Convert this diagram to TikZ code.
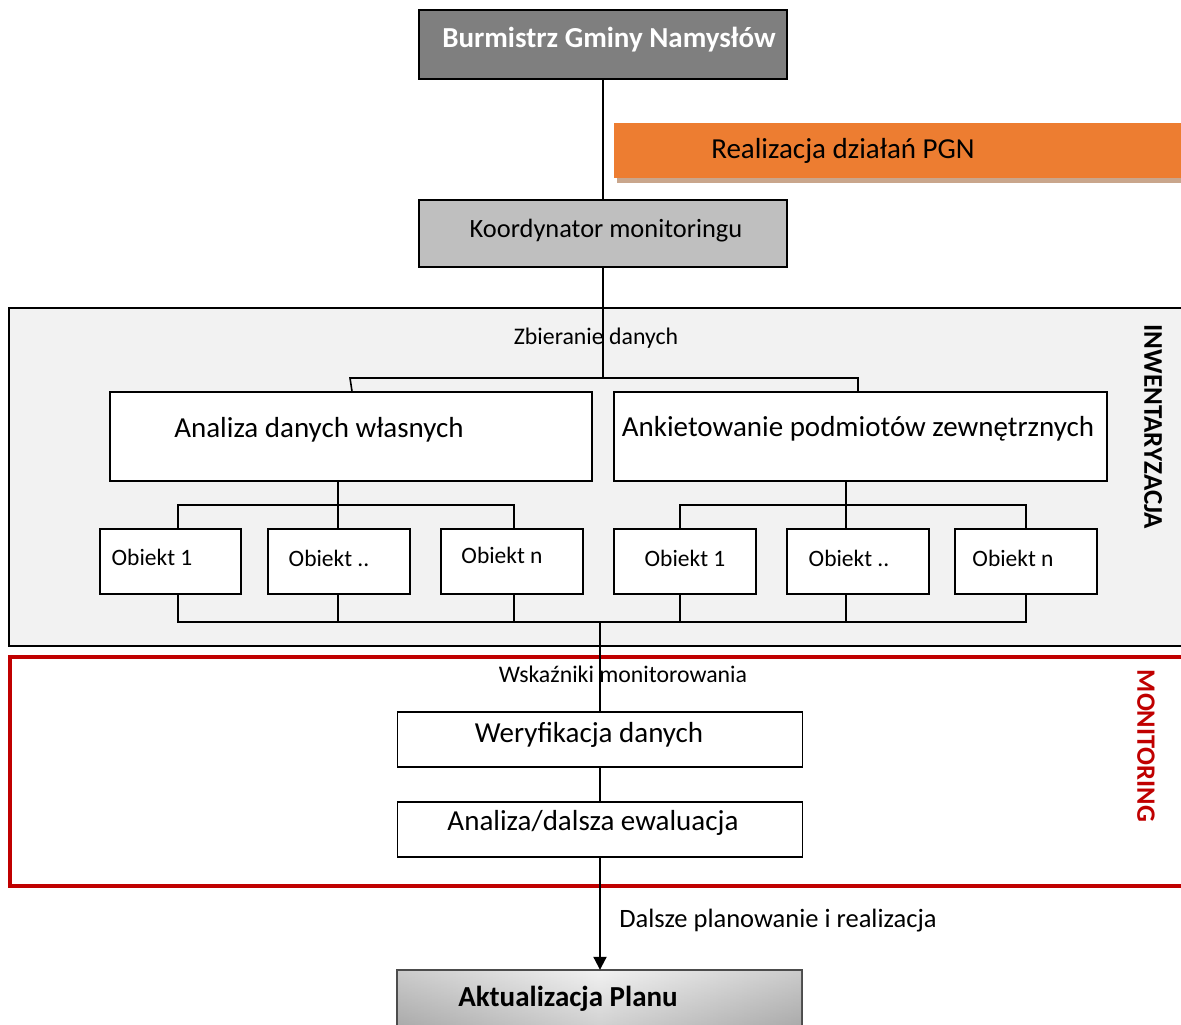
\documentclass[tikz,border=0pt]{standalone}
\usepackage{fontspec}
\setmainfont{Carlito}
\usetikzlibrary{arrows.meta}
\definecolor{burgray}{HTML}{7F7F7F}
\definecolor{koogray}{HTML}{BFBFBF}
\definecolor{orangeb}{HTML}{ED7D31}
\definecolor{orshadow}{HTML}{C9A68C}
\definecolor{panelgray}{HTML}{F2F2F2}
\definecolor{monred}{HTML}{C00000}
\begin{document}
\begin{tikzpicture}[x=1pt,y=-1pt,
  box/.style={draw=black, line width=1.5pt, fill=white, inner sep=0pt},
  lbl/.style={inner sep=0pt, yshift=-2pt},
  txt/.style={lbl, font=\fontsize{29}{34}\selectfont},
  small/.style={lbl, font=\fontsize{23.5}{28}\selectfont},
  conn/.style={line width=1.6pt, black},
]
\useasboundingbox (0,0) rectangle (1181,1025);
\clip (0,0) rectangle (1181,1025);

% panels
\node[draw=black, line width=1.5pt, fill=panelgray, minimum width=1200pt, minimum height=338pt, inner sep=0pt, anchor=north west] (inwpanel) at (8,307) {};
\node[draw=monred, line width=3.5pt, fill=white, minimum width=1200pt, minimum height=229pt, inner sep=0pt, anchor=north west] (monpanel) at (8,655) {};

% orange banner with shadow
\fill[orshadow] (617,128) rectangle (1200,183);
\node[fill=orangeb, minimum width=600pt, minimum height=55pt, inner sep=0pt, anchor=north west] (banner) at (614,123) {};
\node[txt] (bannert) at (843,149) {Realizacja działań PGN};

% side labels
\node[inner sep=0pt, rotate=-90, font=\fontsize{27}{32}\selectfont\bfseries] (inwlab) at (1153,427) {INWENTARYZACJA};
\node[inner sep=0pt, rotate=-90, text=monred, font=\fontsize{26.5}{31}\selectfont\bfseries] (monlab) at (1146,746) {MONITORING};

% free labels
\node[lbl, font=\fontsize{23.8}{28}\selectfont] (zbier) at (596,336) {Zbieranie danych};
\node[lbl, font=\fontsize{23.8}{28}\selectfont] (wsk) at (623,672) {Wskaźniki monitorowania};
\node[lbl, font=\fontsize{26.5}{31}\selectfont] (dalsze) at (778,919) {Dalsze planowanie i realizacja};

% coordinates for buses
\coordinate (topbus) at (603,378);
\coordinate (tbl) at (350,378);
\coordinate (tbr) at (858,378);
\coordinate (l1) at (178,505);
\coordinate (l2) at (338,505);
\coordinate (l3) at (514,505);
\coordinate (r1) at (680,505);
\coordinate (r2) at (846,505);
\coordinate (r3) at (1026,505);
\coordinate (b1) at (178,622);
\coordinate (b2) at (338,622);
\coordinate (b3) at (514,622);
\coordinate (b4) at (680,622);
\coordinate (b5) at (846,622);
\coordinate (b6) at (1026,622);
\coordinate (bmid) at (600,622);

% boxes
\node[box, fill=burgray, minimum width=368pt, minimum height=69pt] (bur) at (603,44.5) {};
\node[box, fill=koogray, minimum width=368pt, minimum height=67pt] (koo) at (603,233.5) {};
\node[box, minimum width=482pt, minimum height=89pt] (ana) at (351,436.5) {};
\node[box, minimum width=493pt, minimum height=89pt] (ank) at (860.5,436.5) {};
\node[box, minimum width=141pt, minimum height=65pt] (o1) at (170.5,561.5) {};
\node[box, minimum width=142pt, minimum height=65pt] (o2) at (339,561.5) {};
\node[box, minimum width=142pt, minimum height=65pt] (o3) at (512,561.5) {};
\node[box, minimum width=142pt, minimum height=65pt] (o4) at (685,561.5) {};
\node[box, minimum width=142pt, minimum height=65pt] (o5) at (858,561.5) {};
\node[box, minimum width=142pt, minimum height=65pt] (o6) at (1026,561.5) {};
\node[box, minimum width=405pt, minimum height=55pt] (wer) at (600,739.5) {};
\node[box, minimum width=405pt, minimum height=55pt] (ewa) at (600,829.5) {};
\shade[left color=gray!75, right color=gray!75, middle color=gray!20, draw=black!70, line width=1.5pt] (397,970) rectangle (802,1032);
\shade[top color=white, bottom color=gray!60, opacity=0.45] (398,971) rectangle (801,1031);
\node[inner sep=0pt, minimum width=405pt, minimum height=62pt] (akt) at (600,1001) {};

% connectors
\draw[conn] (bur.south) -- (koo.north);
\draw[conn] (koo.south) -- (topbus);
\draw[conn] (ana.north -| 352,0) -- (tbl) -- (tbr) -- (ank.north -| tbr);
\draw[conn] (l2 |- ana.south) -- (l2 |- o2.north);
\draw[conn] (o1.north -| l1) -- (l1) -- (l3) -- (o3.north -| l3);
\draw[conn] (r2 |- ank.south) -- (r2 |- o5.north);
\draw[conn] (o4.north -| r1) -- (r1) -- (r3) -- (o6.north -| r3);
\draw[conn] (o1.south -| b1) -- (b1) -- (b6) -- (o6.south -| b6);
\draw[conn] (o2.south -| b2) -- (b2);
\draw[conn] (o3.south -| b3) -- (b3);
\draw[conn] (o4.south -| b4) -- (b4);
\draw[conn] (o5.south -| b5) -- (b5);
\draw[conn] (bmid) -- (wer.north);
\draw[conn] (wer.south) -- (ewa.north);
\draw[line width=2pt, -{Triangle[length=13pt,width=13pt]}] (ewa.south) -- (akt.north);

% box texts
\node[lbl, text=white, font=\fontsize{29}{34}\selectfont\bfseries] (burt) at (609,38) {Burmistrz Gminy Namysłów};
\node[lbl, font=\fontsize{26.4}{31}\selectfont] (koot) at (606,229) {Koordynator monitoringu};
\node[txt] (anat) at (319,428) {Analiza danych własnych};
\node[txt] (ankt) at (858,427) {Ankietowanie podmiotów zewnętrznych};
\node[small] (o1t) at (152,555) {Obiekt 1};
\node[small] (o2t) at (329,556) {Obiekt ..};
\node[small] (o3t) at (502,553) {Obiekt n};
\node[small] (o4t) at (685,556) {Obiekt 1};
\node[small] (o5t) at (849,556) {Obiekt ..};
\node[small] (o6t) at (1013,556) {Obiekt n};
\node[txt] (wert) at (589,733) {Weryfikacja danych};
\node[txt] (ewat) at (593,821) {Analiza/dalsza ewaluacja};
\node[lbl, font=\fontsize{29}{34}\selectfont\bfseries] (aktt) at (568,997) {Aktualizacja Planu};
\end{tikzpicture}
\end{document}
